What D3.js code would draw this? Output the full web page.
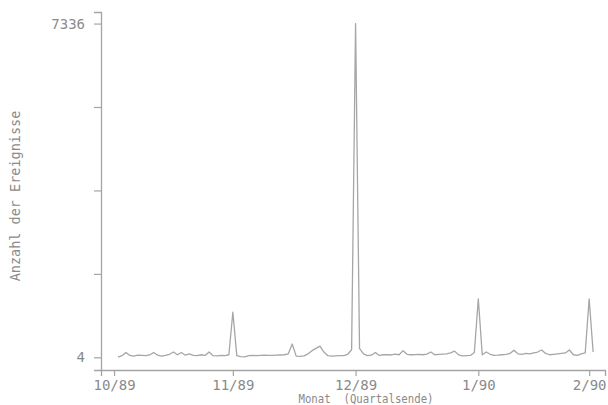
<!DOCTYPE html>
<html>
<head>
<meta charset="utf-8">
<script src="https://cdn.jsdelivr.net/npm/d3@7"></script>
<style>
  html, body { margin: 0; padding: 0; background: #fff; }
  svg { display: block; }
  text { font-family: "DejaVu Sans Mono", monospace; fill: #8a8a8a; }
</style>
</head>
<body>
<svg id="chart" width="608" height="405"></svg>
<script>
// Day offsets from the end of October 1989 (month-end ticks)
const tickDays = [0, 30, 61, 92, 120];
const tickLabels = ["10/89", "11/89", "12/89", "1/90", "2/90"];
const yTickValues = [4, 1837, 3670, 5503, 7336];
const yTickLabels = ["4", "", "", "", "7336"];
const startDay = 1;
// Daily event counts, days 1..121
const counts = [
  10, 40, 110, 45, 30, 50, 45, 40, 55, 110,
  50, 30, 45, 70, 120, 60, 110, 50, 80, 45,
  40, 60, 45, 120, 40, 35, 45, 40, 60, 995,
  40, 20, 15, 40, 45, 40, 45, 50, 45, 45,
  50, 55, 60, 80, 296, 30, 25, 35, 80, 150,
  200, 250, 120, 40, 30, 35, 40, 40, 70, 170,
  7336, 200, 80, 40, 50, 110, 45, 60, 60, 55,
  75, 60, 150, 70, 60, 65, 70, 60, 75, 120,
  60, 70, 75, 80, 100, 140, 60, 35, 40, 45,
  110, 1285, 60, 120, 70, 45, 50, 60, 70, 90,
  160, 80, 70, 90, 80, 100, 120, 165, 90, 60,
  70, 80, 90, 100, 165, 60, 45, 80, 100, 1285,
  120
];
const xTitle = "Monat  (Quartalsende)";
const yTitle = "Anzahl der Ereignisse";

const svg = d3.select("#chart");
const x = d3.scaleLinear().domain([-3.3, 124]).range([101, 605]);
const y = d3.scaleLinear().domain([-275, 7590]).range([370, 12]);

const axisColor = "#a4a4a4";

// X axis
const gx = svg.append("g").attr("transform", "translate(0,370)")
  .call(d3.axisBottom(x).tickValues(tickDays).tickFormat((d, i) => tickLabels[i])
    .tickSizeOuter(0).tickSize(6).tickPadding(4));
gx.select(".domain").attr("stroke", axisColor).attr("stroke-width", 1.3);
gx.selectAll(".tick line").attr("stroke", axisColor).attr("stroke-width", 1.2);
gx.selectAll(".tick text").attr("font-size", 14).attr("font-family", "DejaVu Sans Mono")
  .attr("fill", "#8e8e8e");

// Y axis
const gy = svg.append("g").attr("transform", "translate(101,0)")
  .call(d3.axisLeft(y).tickValues(yTickValues).tickFormat((d, i) => yTickLabels[i])
    .tickSizeOuter(0).tickSize(7).tickPadding(9));
gy.select(".domain").attr("stroke", axisColor).attr("stroke-width", 1.3);
gy.selectAll(".tick line").attr("stroke", axisColor).attr("stroke-width", 1.2);
gy.selectAll(".tick text").attr("font-size", 14).attr("font-family", "DejaVu Sans Mono")
  .attr("fill", "#8e8e8e");

// Data line
const data = counts.map((v, i) => ({ d: startDay + i, v }));
svg.append("path")
  .datum(data)
  .attr("fill", "none")
  .attr("stroke", "#a6a6a6")
  .attr("stroke-width", 1.3)
  .attr("stroke-linejoin", "round")
  .attr("d", d3.line().x(p => x(p.d)).y(p => y(p.v)));

// Titles
svg.append("text")
  .attr("x", 366).attr("y", 403)
  .attr("text-anchor", "middle")
  .attr("font-size", 12)
  .attr("textLength", 135)
  .attr("lengthAdjust", "spacingAndGlyphs")
  .attr("xml:space", "preserve")
  .style("white-space", "pre")
  .text(xTitle);

svg.append("text")
  .attr("transform", "translate(20,196) rotate(-90)")
  .attr("text-anchor", "middle")
  .attr("font-size", 13.5)
  .text(yTitle);
</script>
</body>
</html>
